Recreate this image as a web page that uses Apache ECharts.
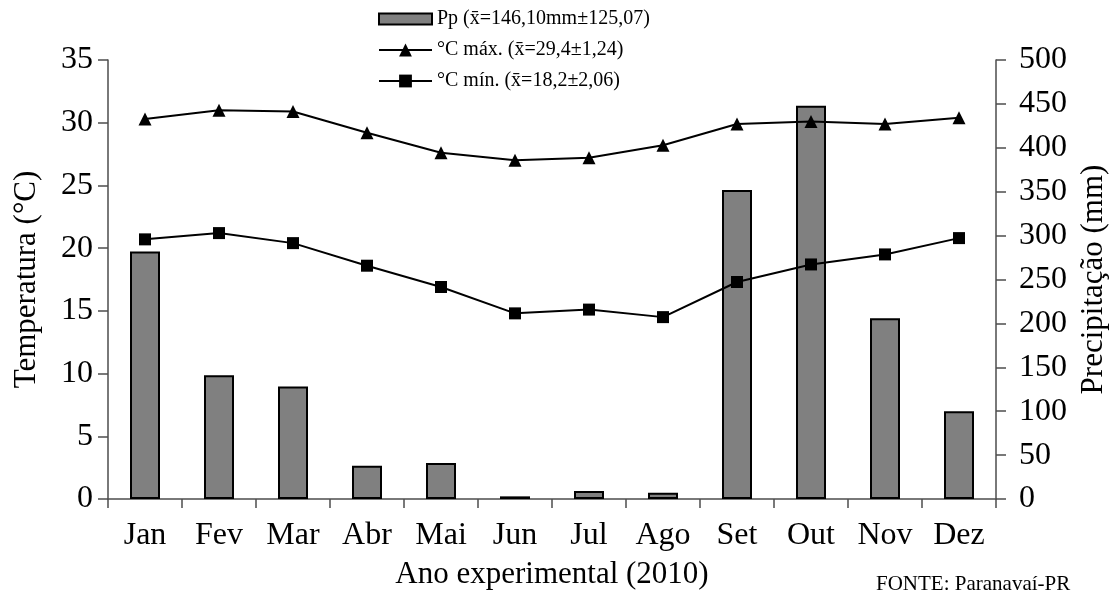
<!DOCTYPE html>
<html>
<head>
<meta charset="utf-8">
<script src="https://cdn.jsdelivr.net/npm/echarts@6/dist/echarts.min.js"></script>
<style>html,body{margin:0;padding:0;background:#fff}#c{width:1109px;height:591px}</style>
</head>
<body>
<div id="c"></div>
<script>
const months = ['Jan','Fev','Mar','Abr','Mai','Jun','Jul','Ago','Set','Out','Nov','Dez'];
const precip = [282, 141, 128, 38, 41, 3, 9, 7, 352, 448, 206, 100];
const tMax = [30.3, 31.0, 30.9, 29.2, 27.6, 27.0, 27.2, 28.2, 29.9, 30.1, 29.9, 30.4];
const tMin = [20.7, 21.2, 20.4, 18.6, 16.9, 14.8, 15.1, 14.5, 17.3, 18.7, 19.5, 20.8];
const legendNames = ['Pp (x\u0304=146,10mm\u00b1125,07)', '\u00b0C m\u00e1x. (x\u0304=29,4\u00b11,24)', '\u00b0C m\u00edn. (x\u0304=18,2\u00b12,06)'];

const F = 'Liberation Serif, Times New Roman, serif';
const axisCol = '#4d4d4d';
const chart = echarts.init(document.getElementById('c'), null, {renderer:'canvas'});
chart.setOption({
  animation: false,
  backgroundColor: '#fff',
  grid: {left: 108, right: 113, top: 60, bottom: 92, containLabel: false, outerBoundsMode: 'none'},
  legend: {
    orient: 'vertical', left: 373, top: 4, itemGap: 11,
    itemWidth: 53, itemHeight: 16,
    textStyle: {fontFamily: F, fontSize: 20, color: '#000'},
    data: [
      {name: legendNames[0], icon: 'path://M0,0 L53,0 L53,11 L0,11 Z'},
      {name: legendNames[1]},
      {name: legendNames[2]}
    ]
  },
  xAxis: {
    type: 'category', data: months,
    axisLine: {lineStyle: {color: axisCol, width: 1.5}},
    axisTick: {show: true, length: 9, lineStyle: {color: axisCol, width: 1.5}},
    axisLabel: {fontFamily: F, fontSize: 32, color: '#000', margin: 21},
    name: 'Ano experimental (2010)', nameLocation: 'middle', nameGap: 60,
    nameTextStyle: {fontFamily: F, fontSize: 31, color: '#000'}
  },
  yAxis: [{
    type: 'value', min: 0, max: 35, interval: 5,
    axisLine: {show: true, lineStyle: {color: axisCol, width: 1.5}},
    axisTick: {show: true, length: 10, lineStyle: {color: axisCol, width: 1.5}},
    splitLine: {show: false},
    axisLabel: {fontFamily: F, fontSize: 32, color: '#000', margin: 15},
    name: 'Temperatura (\u00b0C)', nameLocation: 'middle', nameGap: 66,
    nameTextStyle: {fontFamily: F, fontSize: 31, color: '#000'}
  }, {
    type: 'value', min: 0, max: 500, interval: 50,
    axisLine: {show: true, lineStyle: {color: axisCol, width: 1.5}},
    axisTick: {show: true, length: 10, lineStyle: {color: axisCol, width: 1.5}},
    splitLine: {show: false},
    axisLabel: {fontFamily: F, fontSize: 32, color: '#000', margin: 23},
    name: 'Precipita\u00e7\u00e3o (mm)', nameLocation: 'middle', nameGap: 80, nameRotate: 90,
    nameTextStyle: {fontFamily: F, fontSize: 31, color: '#000'}
  }],
  series: [{
    name: legendNames[0], type: 'bar', yAxisIndex: 1, data: precip, barWidth: 30,
    itemStyle: {color: '#808080', borderColor: '#000', borderWidth: 2}
  }, {
    name: legendNames[1], type: 'line', yAxisIndex: 0, data: tMax,
    symbol: 'triangle', symbolSize: 13,
    lineStyle: {color: '#000', width: 2}, itemStyle: {color: '#000'}
  }, {
    name: legendNames[2], type: 'line', yAxisIndex: 0, data: tMin,
    symbol: 'rect', symbolSize: 12,
    lineStyle: {color: '#000', width: 2}, itemStyle: {color: '#000'}
  }],
  graphic: [{
    type: 'text', left: 876, top: 574,
    style: {text: 'FONTE: Paranava\u00ed-PR', font: '21px Liberation Serif', fill: '#000'}
  }]
});
</script>
</body>
</html>
